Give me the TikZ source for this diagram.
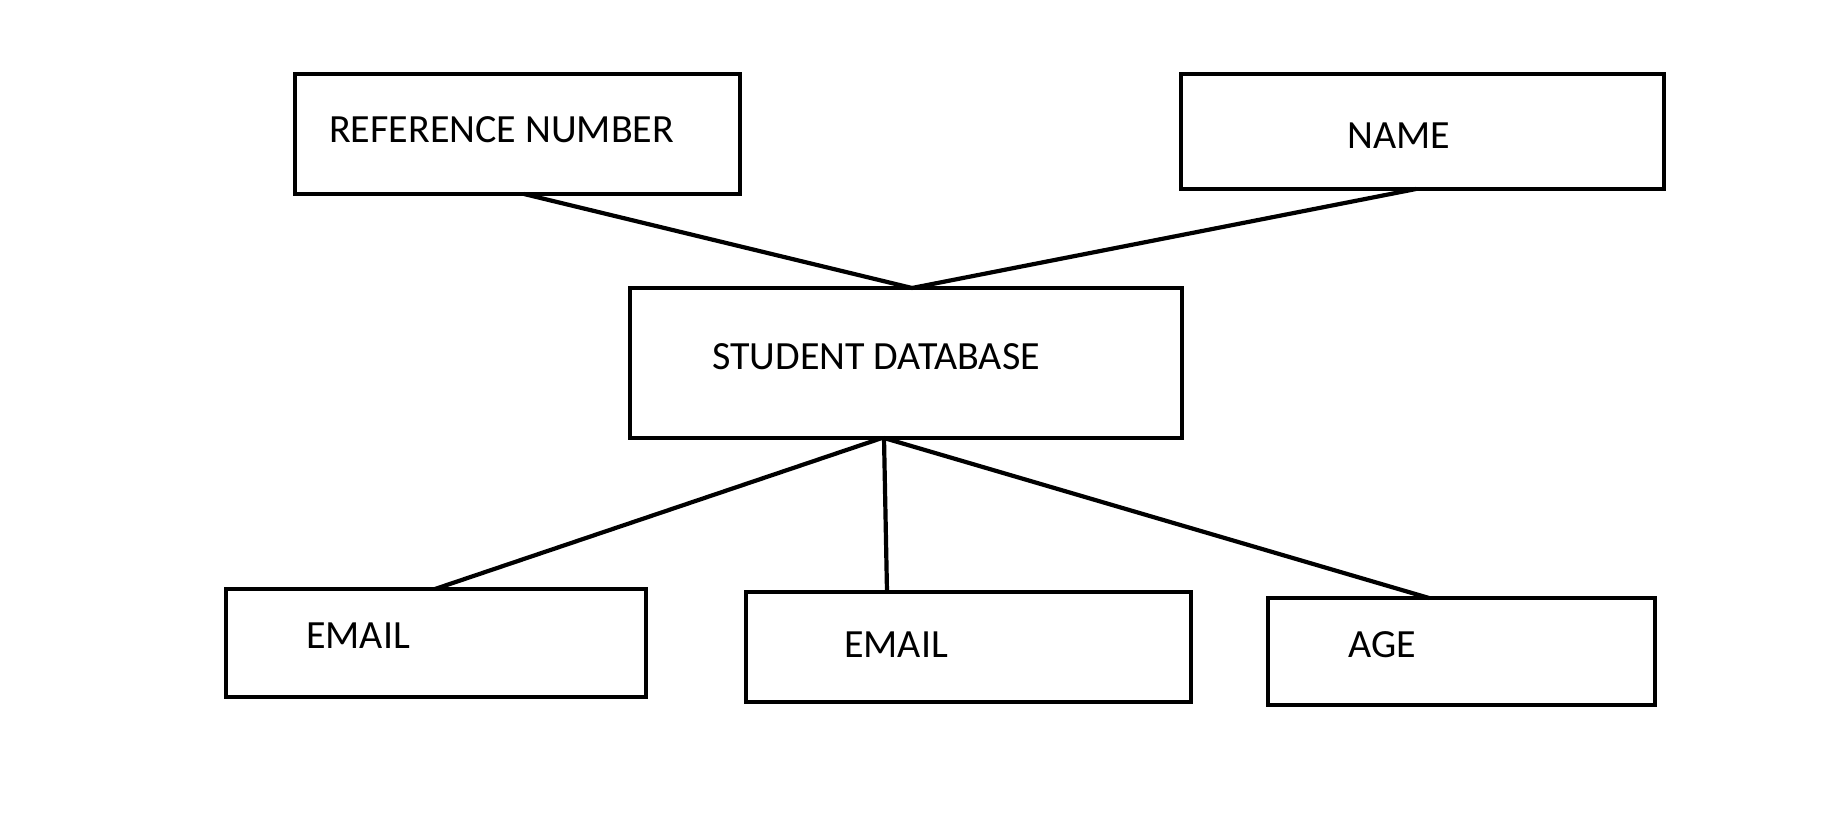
\documentclass[tikz,border=0pt]{standalone}
\usepackage{fontspec}
\setmainfont{Carlito}
\begin{document}
\begin{tikzpicture}[x=1pt,y=-1pt,
  entbox/.style={draw=black,line width=4.6pt,rectangle,inner sep=0pt,outer sep=0pt,fill=none},
  lbl/.style={anchor=west,inner sep=0pt,font=\fontsize{40}{48}\selectfont},
  conn/.style={draw=black,line width=4.2pt}]
\useasboundingbox[fill=white] (0,0) rectangle (1843,834);
% boxes
\node[entbox,minimum width=445pt,minimum height=120pt] (ref) at (517.5,134) {};
\node[entbox,minimum width=483pt,minimum height=115pt] (name) at (1422.5,131.5) {};
\node[entbox,minimum width=552pt,minimum height=150pt] (sd) at (906,363) {};
\node[entbox,minimum width=420pt,minimum height=108pt] (em1) at (436,643) {};
\node[entbox,minimum width=445pt,minimum height=110pt] (em2) at (968.5,647) {};
\node[entbox,minimum width=387pt,minimum height=107pt] (age) at (1461.5,651.5) {};
% labels
\node[lbl] (tref) at (329,130) {REFERENCE NUMBER};
\node[lbl] (tname) at (1347,136) {NAME};
\node[lbl] (tsd) at (712,357) {STUDENT DATABASE};
\node[lbl] (tem1) at (306,636) {EMAIL};
\node[lbl] (tem2) at (844,645) {EMAIL};
\node[lbl] (tage) at (1348,645) {AGE};
% connectors
\coordinate (sdtop) at ([xshift=6pt]sd.north);
\draw[conn] ([xshift=6.5pt]ref.south) -- (sdtop);
\draw[conn] ([xshift=-6.5pt]name.south) -- (sdtop);
\draw[conn] ([xshift=-24pt]sd.south) -- ([xshift=-1pt]em1.north);
\draw[conn] ([xshift=-22pt]sd.south) -- ([xshift=-81.5pt]em2.north);
\draw[conn] ([xshift=-22pt]sd.south) -- ([xshift=-32.5pt]age.north);
\end{tikzpicture}
\end{document}
